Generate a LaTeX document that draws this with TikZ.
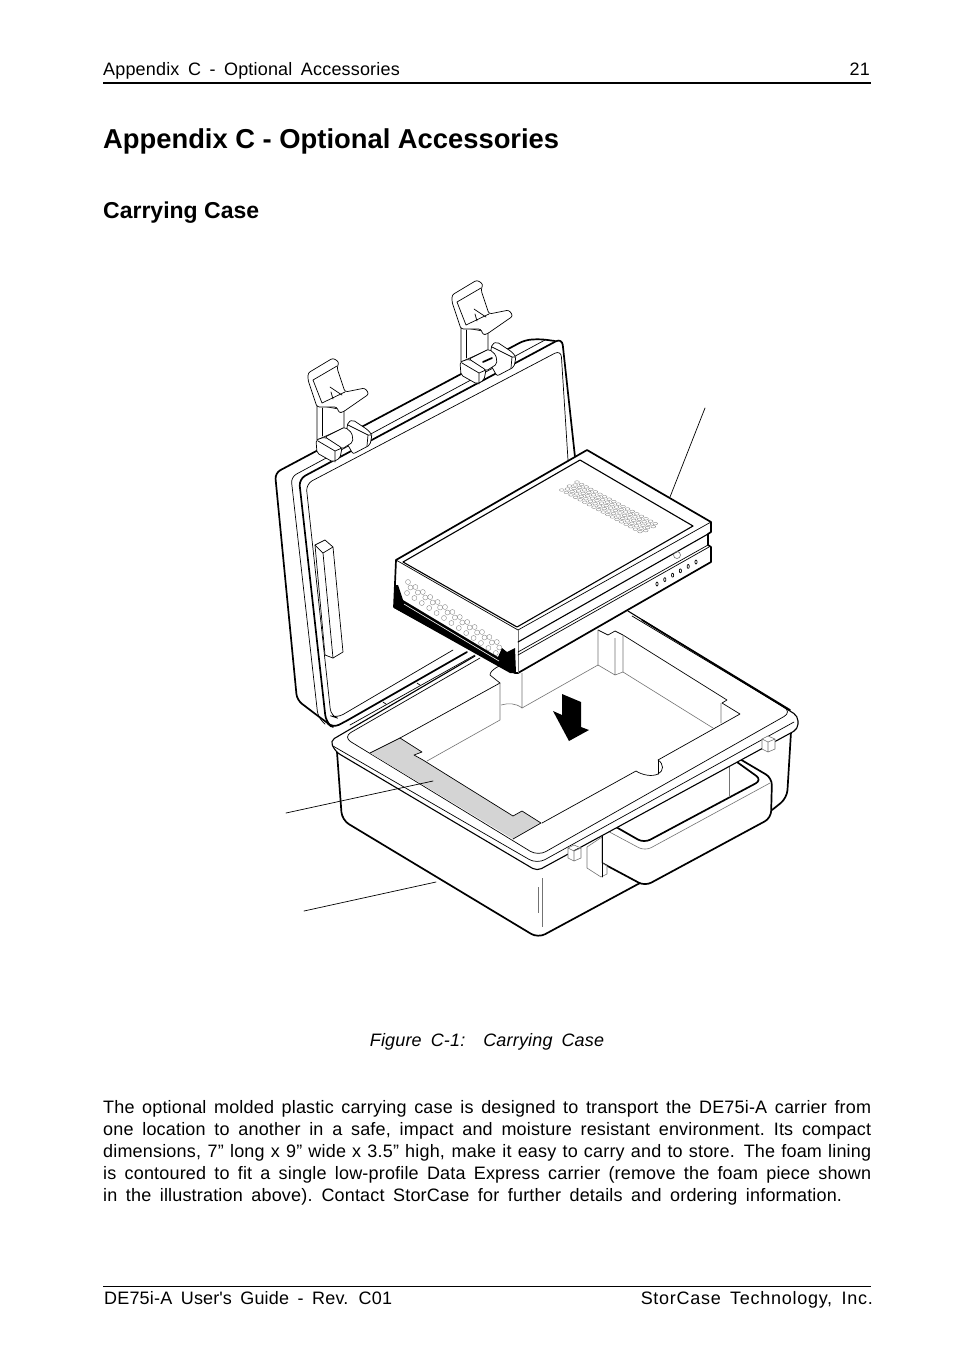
\documentclass[tikz,border=0pt]{standalone}
\usepackage{fontspec}
\setmainfont[WordSpace=1.65,LetterSpace=1]{Liberation Sans}
\newfontfamily\headfont{Liberation Sans}
\usetikzlibrary{positioning}
\tikzset{
  heavy/.style={line width=1.7pt, line join=round, line cap=round},
  medium/.style={line width=1.1pt, line join=round, line cap=round},
  fine/.style={line width=0.7pt, line join=round, line cap=round},
  faint/.style={line width=0.6pt, draw=black!55, line join=round},
  bodytext/.style={inner sep=0pt, anchor=north west, text width=768pt, align=justify},
  plain/.style={inner sep=0pt, anchor=base west}}
\begin{document}
\begin{tikzpicture}[x=1pt, y=-1pt]
  \useasboundingbox (0,0) rectangle (954,1369);
  \fontsize{18}{22}\selectfont

  % page text
  \node[plain] (runhead) at (103,75) {Appendix C - Optional Accessories};
  \node[plain, anchor=base east] (pagenum) at (870,75) {21};
  \draw[line width=1.6pt] (103,83) -- (871,83);
  \node[plain] (title) at (103,148) {\fontsize{27.35}{30}\selectfont\headfont\bfseries Appendix C - Optional Accessories};
  \node[plain] (subtitle) at (103,218) {\fontsize{23}{26}\selectfont\headfont\bfseries Carrying Case};
  \node[plain, anchor=base] (caption) at (487,1046) {\itshape Figure\enspace C-1:\quad Carrying\enspace Case};
  \node[bodytext] (para) at (103,1100) {The optional molded plastic carrying case is designed to transport the DE75i-A carrier from\linebreak
    one location to another in a safe, impact and moisture resistant environment.\enspace Its compact\linebreak
    dimensions, 7” long x 9” wide x 3.5” high, make it easy to carry and to store.\enspace The foam lining\linebreak
    is contoured to fit a single low-profile Data Express carrier (remove the foam piece shown\linebreak
    in the illustration above).\enspace Contact StorCase for further details and ordering information.};
  \draw[line width=0.8pt] (103,1286) -- (871,1286);
  \node[plain] (foot) at (104,1304) {DE75i-A User\textquotesingle s Guide - Rev. C01};
  \node[plain, anchor=base east] (company) at (873,1304) {\addfontfeature{LetterSpace=4}StorCase Technology, Inc.};

  % lid
  \draw[heavy, rounded corners=6pt] (333,727) -- (318,716) -- (297,700) -- (275,473) -- (525,340) -- (540,339) -- (555,341);
  \draw[fine, rounded corners=6pt] (325,724) -- (318,717) -- (291,477) -- (545,340);
  \draw[heavy, rounded corners=7pt] (348,720) -- (333,728) -- (326,722) -- (299,479) -- (562,338) -- (575,457);
  \draw[fine, rounded corners=7pt] (453,650) -- (337,718) -- (331,716) -- (306,484) -- (561,350) -- (568,460);
  \draw[heavy] (348,720) -- (467,652);
  \draw[fine] (350,725) -- (475,655);
  \draw[fine] (383,702) -- (386,704) (417,683) -- (420,685);
  % strap on the lid
  \draw[fine, fill=white] (315,545) -- (325,540) -- (333,547) -- (343,652) -- (333,658) -- (325,655) -- cycle;
  \draw[fine] (315,545) -- (323,553) -- (333,547) (323,553) -- (333,658);

  % latches
  \foreach \dx/\dy in {0/0, 144/-78}{
    \begin{scope}[shift={(\dx,\dy)}]
      \draw[fine, fill=white, rounded corners=2pt] (348,422) -- (353,420) -- (368,430) -- (372,435) -- (370,445) -- (353,454) -- (345,440) -- cycle;
      \draw[fine] (348,425) -- (368,435) -- (372,435) (368,435) -- (367,446);
      \draw[fine, fill=white] (317,405) -- (317,440) -- (344,428) -- (344,410) -- cycle;
      \draw[fine] (322,408) -- (322,436);
      \draw[fine, fill=white, rounded corners=2.5pt] (308,373) -- (333,358) -- (339,362) -- (337,368) -- (345,392) -- (365,388) -- (369,394) -- (343,412) -- (339,413) -- (337,407) -- (323,407) -- (317,407) -- (308,380) -- cycle;
      \draw[fine] (313,380) -- (337,366) (313,380) -- (322,403) -- (345,392);
      \draw[fine] (330,387) -- (342,395) (331,392) -- (333,399);
      \draw[fine, fill=white, rounded corners=2pt] (325,437) -- (345,427) -- (352,433) -- (353,442) -- (342,449) -- cycle;
      \draw[fine, fill=white, rounded corners=2pt] (316,440) -- (325,437) -- (342,448) -- (340,458) -- (333,462) -- (317,453) -- cycle;
      \draw[fine] (318,441) -- (335,451) -- (342,448) (335,451) -- (335,462);
    \end{scope}}
  \draw[heavy] (483,362) -- (492,358);

  % case body
  \draw[heavy, rounded corners=8pt] (337,752) -- (342,820) -- (538,938) -- (640,883);
  \draw[heavy, rounded corners=8pt] (791,732) -- (787,798) -- (772,810);
  \draw[faint] (542,878) -- (542,927) (538,887) -- (538,913);

  % handle
  \draw[heavy, fill=white, rounded corners=7pt] (733,755) -- (772,778) -- (771,818) -- (645,886) -- (602,863);
  \draw[heavy, rounded corners=7pt] (730,757) -- (762,780) -- (644,843) -- (609,823);
  \draw[faint, rounded corners=7pt] (770,783) -- (645,851) -- (602,828);
  \draw[faint] (729,757) -- (729,797);
  \draw[fine] (743,757) -- (762,747);
  \draw[faint, fill=white] (587,847) -- (587,868) -- (601,877) -- (607,874) -- (607,866) -- (602,863) -- (602,837) -- cycle;
  \draw[fine] (602,827) -- (602,877);

  % rim of the case
  \draw[medium, fill=white, rounded corners=5pt] (475,656) -- (330,741) -- (336,752) -- (537,871) -- (798,729) -- (798,716) -- (628,611);
  \draw[fine, rounded corners=9pt] (333,746) -- (537,864) -- (794,722);
  \draw[fine, rounded corners=9pt] (480,658) -- (343,737) -- (538,856) -- (792,712) -- (632,616);
  \draw[heavy] (642,620) -- (790,710);

  % small hinge blocks
  \foreach \dx/\dy in {0/0, 194/-109}{
    \draw[faint, fill=white, shift={(\dx,\dy)}] (568,848) -- (574,845) -- (581,848) -- (581,858) -- (574,861) -- (568,858) -- cycle (568,848) -- (574,851) -- (581,848) (574,851) -- (574,861);}

  % foam piece
  \fill[black!17] (370,753) -- (400,738) -- (422,752) -- (414,755) -- (423,760) -- (513,816) -- (522,811) -- (541,823) -- (513,839) -- cycle;
  \draw[fine] (370,753) -- (400,738) -- (422,752) -- (414,755) -- (423,760) -- (513,816) -- (522,811) -- (541,823) -- (513,839);
  \draw[fine] (400,738) -- (500,683);

  % cavity of the foam
  \draw[fine] (542,823) -- (636,771) .. controls (642,775) and (652,777) .. (658,774);
  \draw[fine] (658,774) .. controls (664,771) and (664,764) .. (658,760) -- (740,714) -- (722,703) -- (727,700) -- (623,635) -- (615,631) -- (608,635) -- (598,630);
  \draw[fine] (658,760) -- (658,774);
  \draw[fine] (500,683) -- (490,675) .. controls (490,670) and (500,665) .. (507,663);
  \draw[faint] (500,683) -- (500,720) -- (427,761);
  \draw[faint] (501,705) .. controls (508,703) and (516,703) .. (522,708) -- (522,673);
  \draw[faint] (522,708) -- (598,665) -- (598,630);
  \draw[faint] (598,665) -- (615,675) -- (623,672) -- (623,635) (615,675) -- (615,638);
  \draw[faint] (623,672) -- (713,728) (721,703) -- (721,723);

  % arrow
  \fill (562,694) -- (581,702) -- (581,727) -- (589,730) -- (569,741) -- (553,711) -- (562,715) -- cycle;

  % carrier
  \draw[heavy, fill=white] (396,560) -- (587,450) -- (711,522) -- (711,532) -- (708,534) -- (708,545) -- (711,547) -- (711,562) -- (518,673) -- (515,673) -- (394,607) -- cycle;
  \draw[medium] (403,562) -- (580,460) -- (693,526) -- (517,627) -- cycle;
  \draw[fine] (396,560) -- (518,630) -- (711,522);
  \draw[faint] (518,630) -- (518,673);
  \draw[medium] (518,642) -- (708,534);
  \draw[fine] (518,652) -- (708,545) (518,655) -- (709,547);
  \draw[faint] (677,555) circle (3.5pt);
  \foreach \n in {0,...,5}
    \draw[fine] (657+7.8*\n,584-4.4*\n) ellipse (1.1pt and 2pt);
  \foreach \u in {0,...,17}
    \foreach \v in {0,...,4}
      \draw[black!50, line width=0.35pt] ({577+4.6*\u-3.8*\v+1.9*mod(\v,2)},{482+2.45*\u+2*\v+mod(\v,2)}) ellipse (2.4pt and 1.3pt);
  \foreach \u in {0,...,12}
    \foreach \v in {0,...,2}
      \draw[black!50, line width=0.35pt] ({408+7.4*\u-0.5*\v+3*mod(\v,2)},{582+5*\u+5.5*\v}) circle (2.5pt);
  \fill[black] (394,585) -- (398,585) -- (403,600) -- (498,657) -- (502,648) -- (507,652) -- (515,648) -- (516,673) -- (510,673) -- (394,608) -- cycle;
  \draw[white, line width=0.6pt] (404,604) -- (499,661);

  % leaders
  \coordinate (carriertip) at (670,497);
  \coordinate (carrierend) at (705,408);
  \coordinate (foamtip) at (433,781);
  \coordinate (foamend) at (286,813);
  \coordinate (casetip) at (436,882);
  \coordinate (caseend) at (304,911);
  \draw[fine] (carrierend) -- (carriertip);
  \draw[fine] (foamend) -- (foamtip);
  \draw[fine] (caseend) -- (casetip);
\end{tikzpicture}
\end{document}
